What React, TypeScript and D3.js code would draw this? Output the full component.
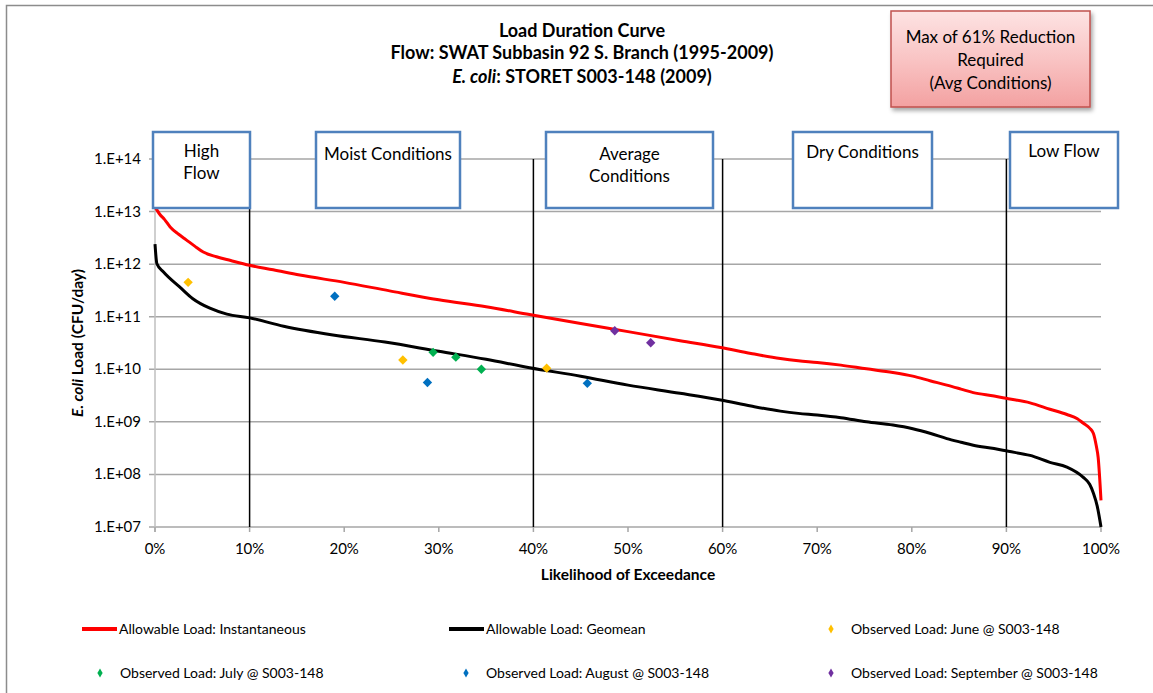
import React from "react";
import * as d3 from "d3";

// ---- Data ----
const instPct = [0, 0.5, 1, 1.6, 2.5, 3.3, 4.2, 5.1, 6.5, 8, 10, 12.5, 15.3, 20, 24.8, 30, 35, 39.6, 45, 50, 55.5, 59.8, 63, 66.1, 68, 70, 72.5, 75.2, 78, 80.1, 82, 83.7, 85.2, 86.5, 88.7, 90.2, 92.5, 94.6, 96.4, 97.5, 98.1, 98.8, 99.2, 99.5, 99.7, 100];
const instLoad = [1.23e13, 8.9e12, 7.1e12, 5.1e12, 3.7e12, 2.9e12, 2.2e12, 1.7e12, 1.38e12, 1.17e12, 9.5e11, 7.8e11, 6.2e11, 4.5e11, 3.1e11, 2.1e11, 1.55e11, 1.1e11, 7.4e10, 5.2e10, 3.5e10, 2.6e10, 2.0e10, 1.6e10, 1.45e10, 1.35e10, 1.2e10, 1.02e10, 8.7e9, 7.4e9, 6.0e9, 5.0e9, 4.2e9, 3.6e9, 3.1e9, 2.75e9, 2.3e9, 1.74e9, 1.38e9, 1.15e9, 9.5e8, 7.6e8, 6.0e8, 3.5e8, 2.1e8, 3.2e7];

const geoPct = [0, 0.2, 0.9, 2.6, 4.0, 5.8, 7.6, 10, 13.6, 18.8, 24.3, 30, 35, 39.6, 45, 50, 55.5, 59.8, 63, 66.1, 68, 70, 72.5, 75.2, 78, 80.1, 82, 83.7, 85.2, 86.5, 88.7, 90.2, 92.5, 94.6, 96.4, 98.1, 98.8, 99.2, 99.6, 100];
const geoLoad = [2.4e12, 1.02e12, 7.1e11, 3.7e11, 2.2e11, 1.45e11, 1.12e11, 9.5e10, 6.6e10, 4.5e10, 3.3e10, 2.2e10, 1.55e10, 1.07e10, 7.4e9, 5.0e9, 3.5e9, 2.6e9, 2.0e9, 1.6e9, 1.45e9, 1.35e9, 1.2e9, 1.0e9, 8.7e8, 7.4e8, 6.0e8, 4.8e8, 4.1e8, 3.6e8, 3.1e8, 2.75e8, 2.3e8, 1.7e8, 1.38e8, 8.9e7, 6.5e7, 4.4e7, 2.5e7, 1.0e7];

const junePct = [3.5, 26.2, 41.4];
const juneLoad = [4.5e11, 1.5e10, 1.05e10];
const julyPct = [29.4, 31.8, 34.5];
const julyLoad = [2.1e10, 1.7e10, 1.0e10];
const augPct = [19.0, 28.8, 45.7];
const augLoad = [2.45e11, 5.6e9, 5.4e9];
const sepPct = [48.6, 52.4];
const sepLoad = [5.4e10, 3.2e10];

const yTicks = [1e7, 1e8, 1e9, 1e10, 1e11, 1e12, 1e13, 1e14];
const xTicks = [0, 10, 20, 30, 40, 50, 60, 70, 80, 90, 100];
const zoneLines = [10, 40, 60, 90];

const titleLines = ["Load Duration Curve", "Flow: SWAT Subbasin 92 S. Branch (1995-2009)"];
const reductionLines = ["Max of 61% Reduction", "Required", "(Avg Conditions)"];

const FONT = "Lato, 'Open Sans', sans-serif";

export default function App() {
  const x = d3.scaleLinear().domain([0, 100]).range([155, 1101]);
  const y = d3.scaleLog().domain([1e7, 1e14]).range([527, 159]);

  const line = d3
    .line<[number, number]>()
    .x((d) => x(d[0]))
    .y((d) => y(d[1]))
    .curve(d3.curveMonotoneX);

  const instData = instPct.map((p, i) => [p, instLoad[i]] as [number, number]);
  const geoData = geoPct.map((p, i) => [p, geoLoad[i]] as [number, number]);

  const diamond = d3.symbol(d3.symbolSquare, 44)() as string;
  const legendDiamond = d3.symbol(d3.symbolDiamond, 24)() as string;

  const series = [
    { name: "June", color: "#FFC000", pct: junePct, load: juneLoad },
    { name: "July", color: "#00B050", pct: julyPct, load: julyLoad },
    { name: "August", color: "#0070C0", pct: augPct, load: augLoad },
    { name: "September", color: "#7030A0", pct: sepPct, load: sepLoad },
  ];

  const fmtY = (v: number) => `1.E+${String(Math.round(Math.log10(v))).padStart(2, "0")}`;

  const zones = [
    { x0: 153, x1: 250, lines: ["High", "Flow"], ty: 157 },
    { x0: 316, x1: 460, lines: ["Moist Conditions"], ty: 160 },
    { x0: 546, x1: 713, lines: ["Average", "Conditions"], ty: 160 },
    { x0: 793, x1: 932, lines: ["Dry Conditions"], ty: 158 },
    { x0: 1010, x1: 1118, lines: ["Low Flow"], ty: 157 },
  ];

  return (
    <div style={{ position: "absolute", left: 0, top: 0 }}>
      <svg width={1153} height={693} style={{ display: "block", fontFamily: FONT }}>
        <defs>
          <linearGradient id="redGrad" x1="0" y1="0" x2="0" y2="1">
            <stop offset="0" stopColor="#fde3e3" />
            <stop offset="0.5" stopColor="#f9c4c4" />
            <stop offset="1" stopColor="#f3a1a1" />
          </linearGradient>
          <filter id="shadow" x="-10%" y="-10%" width="130%" height="140%">
            <feDropShadow dx="2" dy="3" stdDeviation="2" floodColor="#000" floodOpacity="0.35" />
          </filter>
        </defs>
        <rect x={0} y={0} width={1153} height={693} fill="#fff" />
        {/* chart border */}
        <path d="M6.5,700 L6.5,5.5 L1160,5.5" fill="none" stroke="#8c8c8c" strokeWidth={1.5} />

        {/* title */}
        <g fontWeight="bold" fontSize={18} textAnchor="middle" fill="#000">
          <text x={582} y={37}>{titleLines[0]}</text>
          <text x={582} y={59}>{titleLines[1]}</text>
          <text x={582} y={83}>
            <tspan fontStyle="italic">E. coli</tspan>
            <tspan>: STORET S003-148 (2009)</tspan>
          </text>
        </g>

        {/* reduction box */}
        <rect x={891} y={11} width={199} height={96} fill="url(#redGrad)" stroke="#c0504d" strokeWidth={1.5} filter="url(#shadow)" />
        <g fontSize={17} textAnchor="middle" fill="#000">
          {reductionLines.map((t, i) => (
            <text key={i} x={990.5} y={43 + i * 23}>{t}</text>
          ))}
        </g>

        {/* gridlines */}
        {yTicks.map((t) => (
          <line key={t} x1={149} x2={1101} y1={y(t)} y2={y(t)} stroke="#a6a6a6" strokeWidth={1.5} />
        ))}
        {/* y axis line */}
        <line x1={x(0)} x2={x(0)} y1={y(1e14)} y2={y(1e7) + 5} stroke="#bfbfbf" strokeWidth={1.5} />
        {xTicks.map((t) => (
          <line key={t} x1={x(t)} x2={x(t)} y1={y(1e7)} y2={y(1e7) + 5} stroke="#a6a6a6" strokeWidth={1.5} />
        ))}

        {/* y tick labels */}
        <g fontSize={15} textAnchor="end" fill="#000">
          {yTicks.map((t) => (
            <text key={t} x={141} y={y(t) + 5}>{fmtY(t)}</text>
          ))}
        </g>
        {/* x tick labels */}
        <g fontSize={15} textAnchor="middle" fill="#000">
          {xTicks.map((t) => (
            <text key={t} x={x(t)} y={554}>{`${t}%`}</text>
          ))}
        </g>

        {/* axis titles */}
        <text x={628} y={580} textAnchor="middle" fontWeight="bold" fontSize={15.5}>Likelihood of Exceedance</text>
        <text transform="translate(83,343) rotate(-90)" textAnchor="middle" fontWeight="bold" fontSize={15.5}>
          <tspan fontStyle="italic">E. coli</tspan>
          <tspan> Load (CFU/day)</tspan>
        </text>

        {/* zone lines */}
        {zoneLines.map((z) => (
          <line key={z} x1={x(z)} x2={x(z)} y1={y(1e14)} y2={y(1e7)} stroke="#000" strokeWidth={1.5} />
        ))}

        {/* curves */}
        <path d={line(instData) as string} fill="none" stroke="#ff0000" strokeWidth={3} strokeLinejoin="round" />
        <path d={line(geoData) as string} fill="none" stroke="#000" strokeWidth={3} strokeLinejoin="round" />

        {/* observed */}
        {series.map((s) =>
          s.pct.map((p, i) => (
            <path key={s.name + i} d={diamond} transform={`translate(${x(p)},${y(s.load[i])}) rotate(45)`} fill={s.color} />
          ))
        )}

        {/* zone boxes */}
        {zones.map((z, i) => (
          <g key={i}>
            <rect x={z.x0} y={132} width={z.x1 - z.x0} height={76} fill="#fff" stroke="#4f81bd" strokeWidth={2.5} />
            {z.lines.map((t, j) => (
              <text key={j} x={(z.x0 + z.x1) / 2} y={z.ty + j * 22} textAnchor="middle" fontSize={17} fill="#000">{t}</text>
            ))}
          </g>
        ))}

        {/* legend */}
        <g fontSize={14} fill="#000">
          <line x1={82} x2={117} y1={629} y2={629} stroke="#ff0000" strokeWidth={4} />
          <text x={119} y={634}>Allowable Load: Instantaneous</text>
          <line x1={449} x2={484} y1={629} y2={629} stroke="#000" strokeWidth={4} />
          <text x={486} y={634}>Allowable Load: Geomean</text>
          <path d={legendDiamond} transform="translate(831,629)" fill="#FFC000" />
          <text x={851} y={634}>Observed Load: June @ S003-148</text>
          <path d={legendDiamond} transform="translate(100,673)" fill="#00B050" />
          <text x={120} y={678}>Observed Load: July @ S003-148</text>
          <path d={legendDiamond} transform="translate(466,673)" fill="#0070C0" />
          <text x={486} y={678}>Observed Load: August @ S003-148</text>
          <path d={legendDiamond} transform="translate(831,673)" fill="#7030A0" />
          <text x={851} y={678}>Observed Load: September @ S003-148</text>
        </g>
      </svg>
    </div>
  );
}
